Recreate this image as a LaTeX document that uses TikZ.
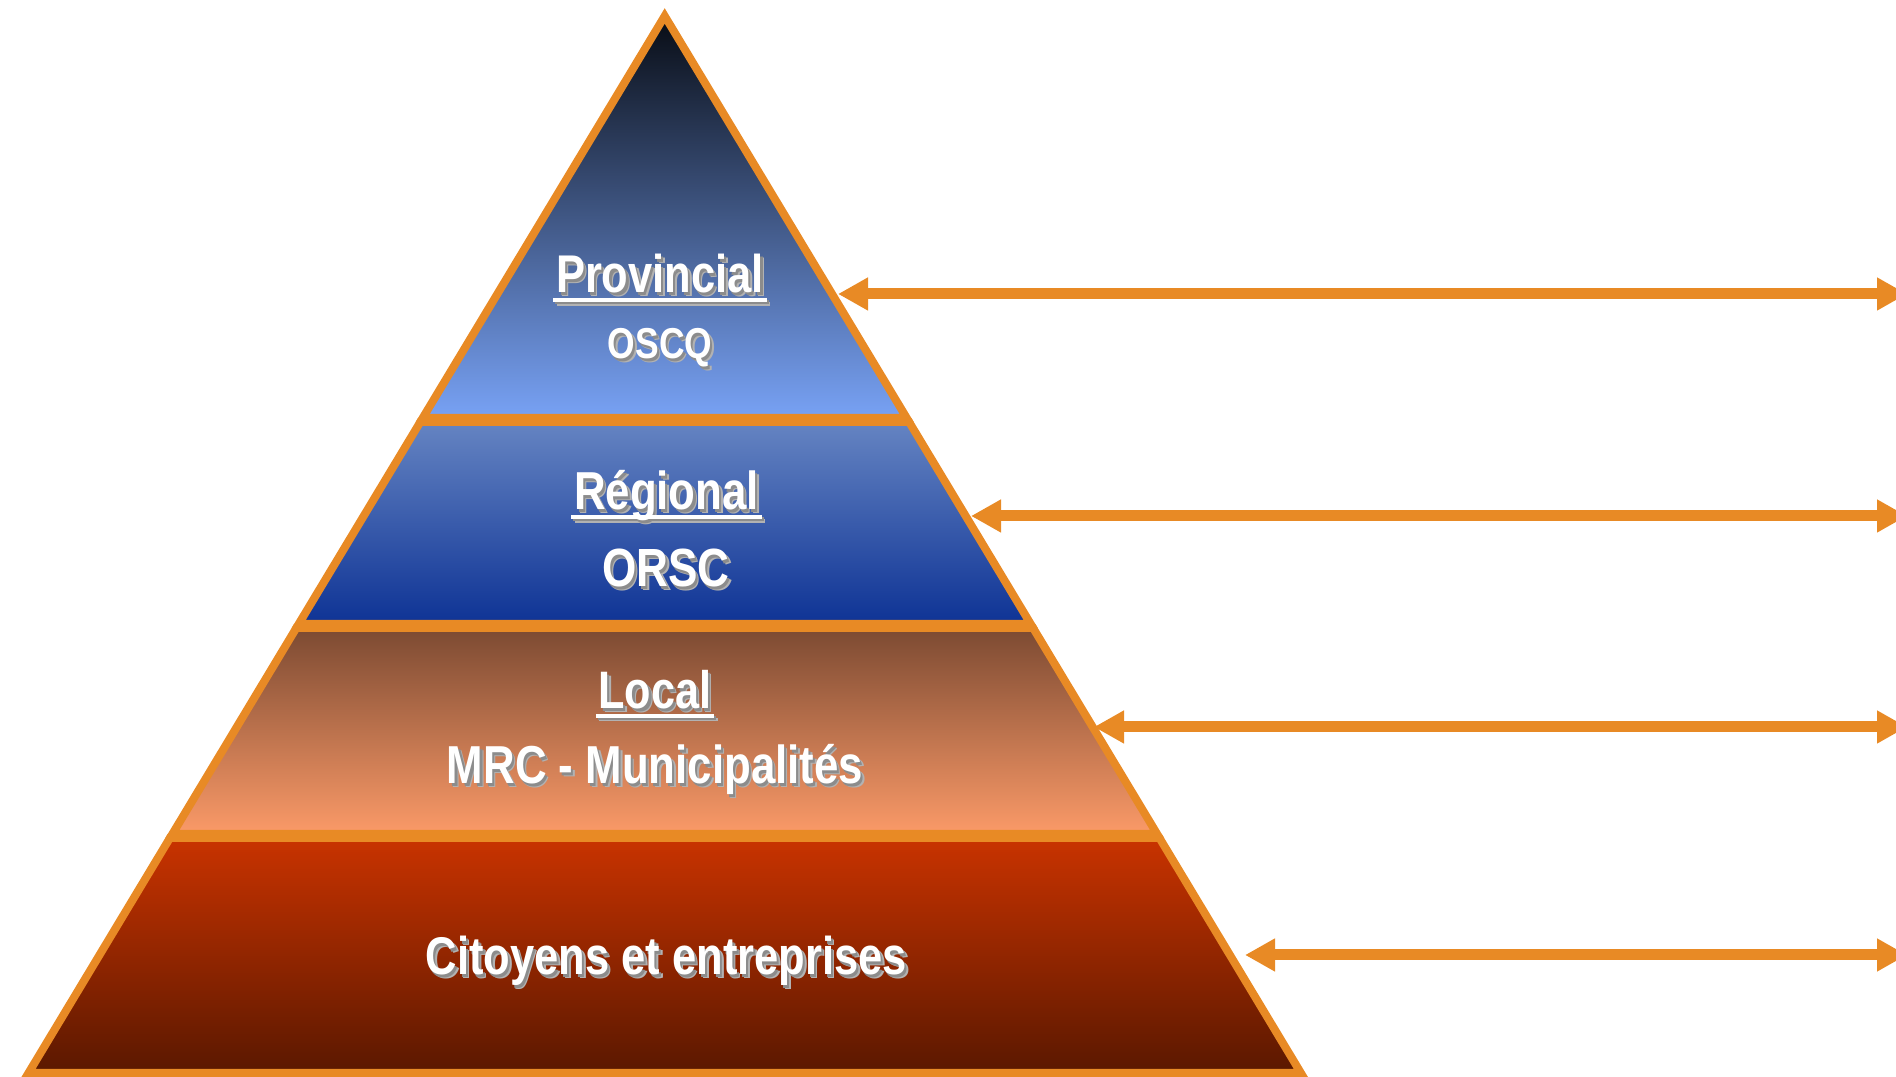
\documentclass[tikz,border=0pt]{standalone}
\usepackage{fontspec}
\usepackage{xcolor}
\usetikzlibrary{arrows.meta}
\newfontfamily\narrowfont[FakeStretch=0.82]{Liberation Sans}
\definecolor{pyrorange}{HTML}{E88A25}
\definecolor{provtop}{HTML}{080C14}
\definecolor{provbot}{HTML}{78A2F5}
\definecolor{regtop}{HTML}{6584C2}
\definecolor{regbot}{HTML}{0E3395}
\definecolor{loctop}{HTML}{7C4A32}
\definecolor{locbot}{HTML}{FB9A68}
\definecolor{cittop}{HTML}{C93300}
\definecolor{citbot}{HTML}{5A1800}
\newcommand\shadowtxt[1]{\rlap{\kern1pt\raisebox{-1pt}{\color{black!30}#1}}\rlap{\kern0.6pt\raisebox{-0.6pt}{\color{black!45}#1}}#1}
\newcommand\ulined[1]{\setbox0=\hbox{#1}\rlap{\kern-0.05em\rule[-0.17em]{\dimexpr\wd0+0.1em}{0.07em}}\box0}
\tikzset{
  band/.style={draw=pyrorange, line width=0.08cm, line join=miter},
  lvl/.style={text=white, anchor=base, inner sep=0pt, font=\narrowfont\bfseries},
  link/.style={draw=pyrorange, line width=0.11cm,
    {Triangle[length=0.3cm,width=0.31cm]}-{Triangle[length=0.3cm,width=0.31cm]}}
}
\begin{document}
\begin{tikzpicture}
\useasboundingbox (0,0) rectangle (18.96,10.77);
% pyramid levels
\shadedraw[band, top color=provtop, bottom color=provbot] (6.647,10.61) -- (9.067,6.59) -- (4.227,6.59) -- cycle;
\shadedraw[band, top color=regtop, bottom color=regbot] (4.203,6.55) -- (9.091,6.55) -- (10.307,4.53) -- (2.987,4.53) -- cycle;
\shadedraw[band, top color=loctop, bottom color=locbot] (2.963,4.49) -- (10.331,4.49) -- (11.571,2.43) -- (1.724,2.43) -- cycle;
\shadedraw[band, top color=cittop, bottom color=citbot] (1.699,2.39) -- (11.595,2.39) -- (13.009,0.04) -- (0.285,0.04) -- cycle;

\draw (6.60,7.84) node (Prov) [lvl] {\fontsize{15.1}{17}\selectfont\shadowtxt{\ulined{Provincial}}};
\draw (6.60,7.18) node (Oscq) [lvl] {\fontsize{12.3}{14}\selectfont\shadowtxt{OSCQ}};
\draw (6.665,5.67) node (Reg) [lvl] {\fontsize{15.2}{17}\selectfont\shadowtxt{\ulined{Régional}}};
\draw (6.66,4.90) node (Orsc) [lvl] {\fontsize{15.3}{17}\selectfont\shadowtxt{ORSC}};
\draw (6.55,3.68) node (Loc) [lvl] {\fontsize{15}{17}\selectfont\shadowtxt{\ulined{Local}}};
\draw (6.55,2.93) node (Mrc) [lvl] {\fontsize{15.2}{17}\selectfont\shadowtxt{MRC - Municipalités}};
\draw (6.665,1.02) node (Cit) [lvl] {\fontsize{15.1}{17}\selectfont\shadowtxt{Citoyens et entreprises}};

% links to the right
\coordinate (provL) at (8.38,7.83);
\coordinate (provR) at (19.07,7.83);
\coordinate (regL) at (9.71,5.61);
\coordinate (regR) at (19.07,5.61);
\coordinate (locL) at (10.94,3.50);
\coordinate (locR) at (19.07,3.50);
\coordinate (citL) at (12.45,1.22);
\coordinate (citR) at (19.07,1.22);

\draw[link] (provL) -- (provR);
\draw[link] (regL) -- (regR);
\draw[link] (locL) -- (locR);
\draw[link] (citL) -- (citR);

\end{tikzpicture}
\end{document}
